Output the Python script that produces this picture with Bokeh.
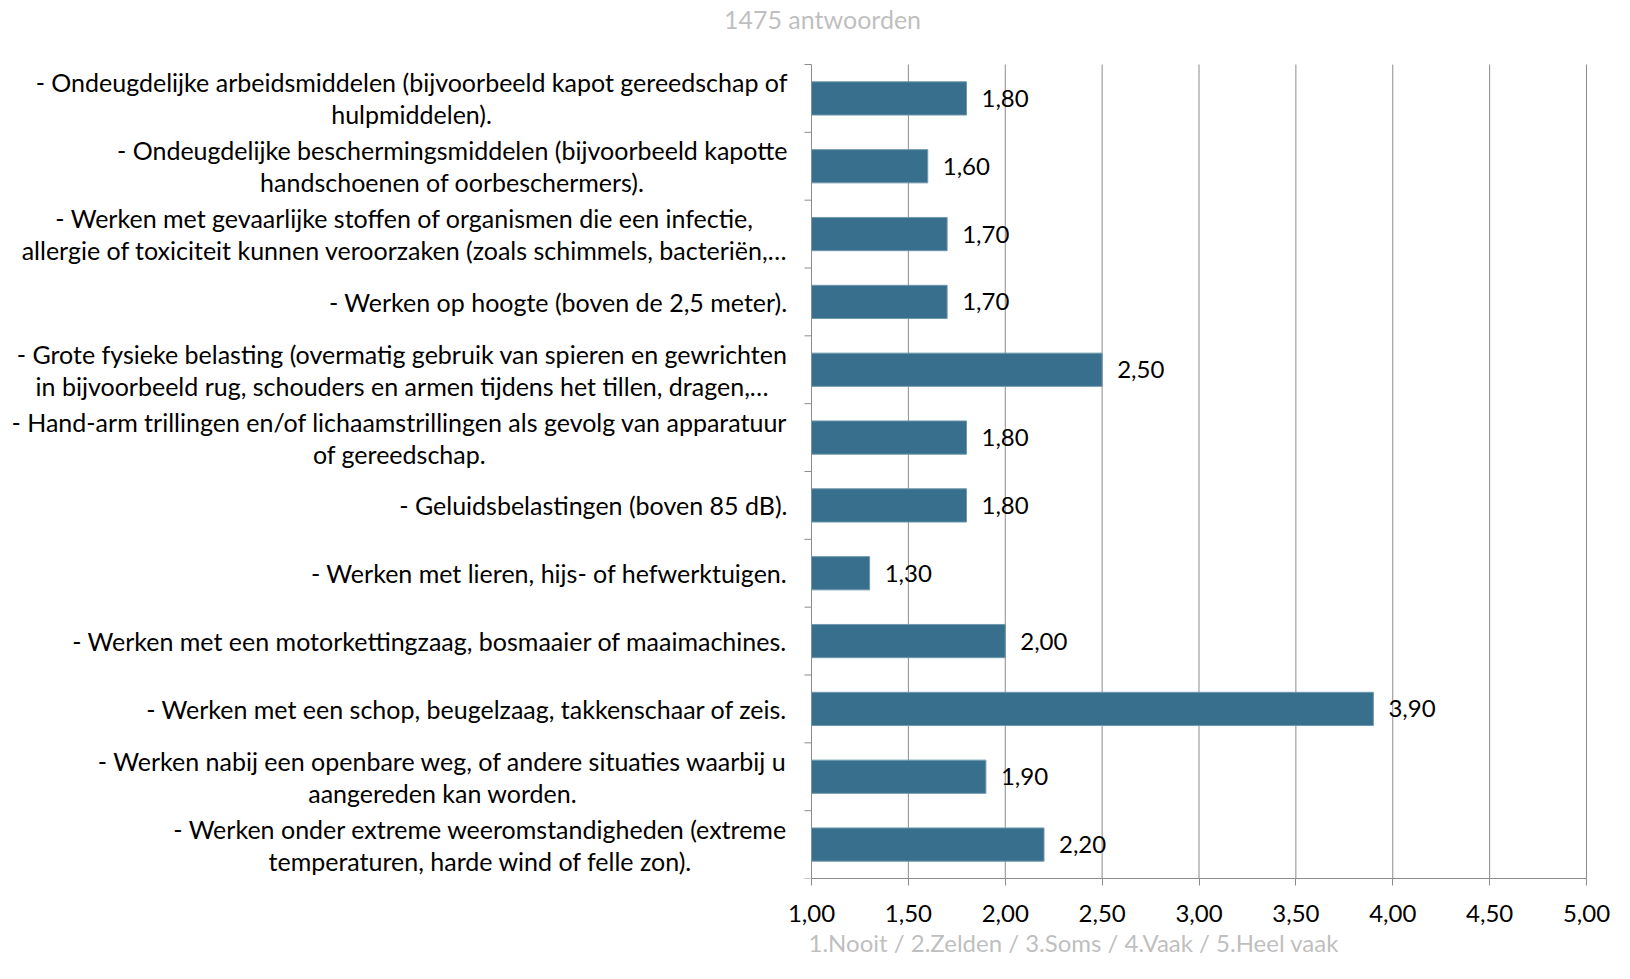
import math
from bokeh.plotting import figure
from bokeh.models import Range1d, FixedTicker, ColumnDataSource, Title
from bokeh.core.properties import value
from bokeh.embed import file_html
from bokeh.resources import INLINE

categories = [
    "- Ondeugdelijke arbeidsmiddelen (bijvoorbeeld kapot gereedschap of\nhulpmiddelen).",
    "- Ondeugdelijke beschermingsmiddelen (bijvoorbeeld kapotte\nhandschoenen of oorbeschermers).",
    "- Werken met gevaarlijke stoffen of organismen die een infectie,\nallergie of toxiciteit kunnen veroorzaken (zoals schimmels, bacteriën,…",
    "- Werken op hoogte (boven de 2,5 meter).",
    "- Grote fysieke belasting (overmatig gebruik van spieren en gewrichten\nin bijvoorbeeld rug, schouders en armen tijdens het tillen, dragen,…",
    "- Hand-arm trillingen en/of lichaamstrillingen als gevolg van apparatuur\nof gereedschap.",
    "- Geluidsbelastingen (boven 85 dB).",
    "- Werken met lieren, hijs- of hefwerktuigen.",
    "- Werken met een motorkettingzaag, bosmaaier of maaimachines.",
    "- Werken met een schop, beugelzaag, takkenschaar of zeis.",
    "- Werken nabij een openbare weg, of andere situaties waarbij u\naangereden kan worden.",
    "- Werken onder extreme weeromstandigheden (extreme\ntemperaturen, harde wind of felle zon).",
]
values = [1.80, 1.60, 1.70, 1.70, 2.50, 1.80, 1.80, 1.30, 2.00, 3.90, 1.90, 2.20]
x_ticks = [1.0, 1.5, 2.0, 2.5, 3.0, 3.5, 4.0, 4.5, 5.0]
chart_title = "1475 antwoorden"
x_axis_title = "1.Nooit / 2.Zelden / 3.Soms / 4.Vaak / 5.Heel vaak"

FONT = "Lato"
FS_NUM = "24px"
FS_CAT = "25px"
FS_AX = "24px"
BAR = "#376F8D"
GRID = "#8C8C8C"
GREY_TXT = "#BFBFBF"

# layout (pixels)
W, H = 1614, 963
LABEL_PX = 811      # room left of the value axis (category labels live here)
PLOT_PX = 775       # width of the 1..5 value area
TOP_PX = 64         # space above the bars area (title lives here)
PLOT_H = 814        # height of the bars area
BOTTOM = H - TOP_PX - PLOT_H

x0, x1 = x_ticks[0], x_ticks[-1]
s = PLOT_PX / (x1 - x0)
x_start = x0 - LABEL_PX / s
x_end = x1 + 2 / s

n = len(categories)
band = PLOT_H / n
y_end = n + TOP_PX / band
y_centers = [n - i - 0.5 for i in range(n)]
boundaries = list(range(n + 1))
fmt = lambda v: f"{v:.2f}".replace(".", ",")

src = ColumnDataSource(dict(y=y_centers, v=values, lbl=[fmt(v) for v in values], cat=categories))

p = figure(width=W, height=H, x_range=Range1d(x_start, x_end), y_range=Range1d(0, y_end),
           output_backend="svg", toolbar_location=None, y_axis_location=None,
           min_border_left=0, min_border_right=W - LABEL_PX - PLOT_PX - 2,
           min_border_top=0, min_border_bottom=BOTTOM)
p.outline_line_color = None
p.background_fill_color = "white"
p.border_fill_color = "white"
p.xgrid.visible = False
p.ygrid.visible = False

# vertical grid lines over the bars area only
p.segment(x0=x_ticks[1:], y0=0, x1=x_ticks[1:], y1=n, line_color=GRID, line_width=1)

# value axis line at 1.00 and category tick marks
p.segment(x0=[x0], y0=[0], x1=[x0], y1=[n], line_color=GRID, line_width=1)
p.ray(x=x0, y=boundaries, length=7, length_units="screen", angle=math.pi,
      line_color=GRID, line_width=1)

p.hbar(y="y", left=x0, right="v", height=0.49, source=src,
       fill_color=BAR, line_color="#6F98AE", line_width=1)
p.text(x="v", y="y", text="lbl", source=src, x_offset=15, text_baseline="middle",
       text_align="left", text_font=value(FONT), text_font_size=FS_NUM, text_color="black")

# category labels (right-aligned block, centred lines)
p.text(x=x0, y="y", text="cat", source=src, x_offset=-24, anchor="center_right",
       text_align="center", text_baseline="middle", text_font=value(FONT),
       text_font_size=FS_CAT, text_color="black", text_line_height=1.07)

# chart title, in the space above the bars
p.text(x=[x_start + 822 / s], y=[y_end - 18 / band], text=[chart_title],
       text_align="center", text_baseline="middle", text_font=value(FONT),
       text_font_size=FS_CAT, text_color=GREY_TXT)

xa = p.xaxis[0]
xa.bounds = (x0, x1)
xa.ticker = FixedTicker(ticks=x_ticks)
xa.major_label_overrides = {t: fmt(t) for t in x_ticks}
xa.major_label_text_font = FONT
xa.major_label_text_font_size = FS_NUM
xa.major_label_text_color = "black"
xa.major_label_standoff = 19
xa.major_tick_out = 7
xa.major_tick_in = 0
xa.minor_tick_out = 0
xa.minor_tick_in = 0
xa.axis_line_color = GRID
xa.major_tick_line_color = GRID

p.add_layout(Title(text=x_axis_title, align="left", offset=808, standoff=2,
                   text_font=FONT, text_font_size=FS_AX, text_font_style="normal",
                   text_color=GREY_TXT), "below")

open("out.html", "w").write(file_html(p, INLINE))
